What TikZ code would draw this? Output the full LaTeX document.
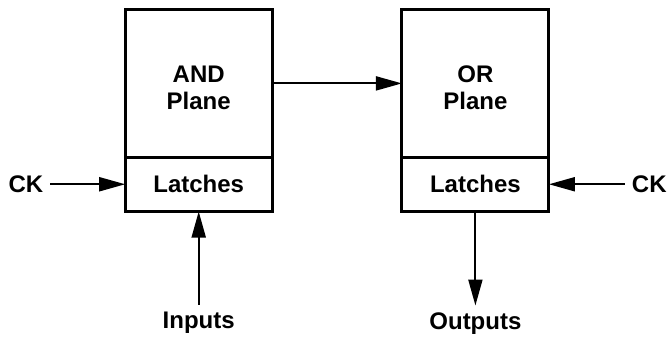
\documentclass[tikz,border=0pt]{standalone}
\usepackage{fontspec}
\setmainfont{Liberation Sans}
\usetikzlibrary{positioning, arrows.meta}

\begin{document}
\begin{tikzpicture}[
      x=0.5pt, y=-0.5pt,
      >={Triangle[length=13pt, width=7pt]},
      every node/.style={font=\bfseries\fontsize{12}{13.5}\selectfont},
      plane/.style={draw, line width=1.5pt, outer sep=0pt,
        minimum width=73.5pt, minimum height=73.6pt},
      latch/.style={draw, line width=1.5pt, outer sep=0pt,
        minimum width=73.5pt, minimum height=27.25pt},
      wire/.style={->, line width=1pt},
    ]
    \useasboundingbox (0,0) rectangle (667,337);

    % the two planes with their latch rows
    \node[plane]                       (andp) at (198.7,83.4) {};
    \node[plane, right=64.85pt of andp] (orp) {};
    \node[latch, below=0pt of andp]    (andl) {Latches};
    \node[latch, below=0pt of orp]     (orl) {Latches};

    \node[align=center] (andtxt) at ([yshift=-2pt]andp.center) {AND\\Plane};
    \node[align=center] (ortxt)  at ([yshift=-2pt]orp.center)  {OR\\Plane};

    % clocks, inputs and outputs
    \node[left=37.4pt of andl]  (ckl) {CK};
    \node[right=38pt of orl]    (ckr) {CK};
    \node[below=46.5pt of andl] (inp) {Inputs};
    \node[below=47pt of orl]    (outp) {Outputs};

    \draw[wire] (andp) -- (orp);
    \draw[wire] (ckl) -- (andl);
    \draw[wire] (ckr) -- (orl);
    \draw[wire] (inp) -- (andl);
    \draw[wire] (orl) -- (outp);

  \end{tikzpicture}
\end{document}
